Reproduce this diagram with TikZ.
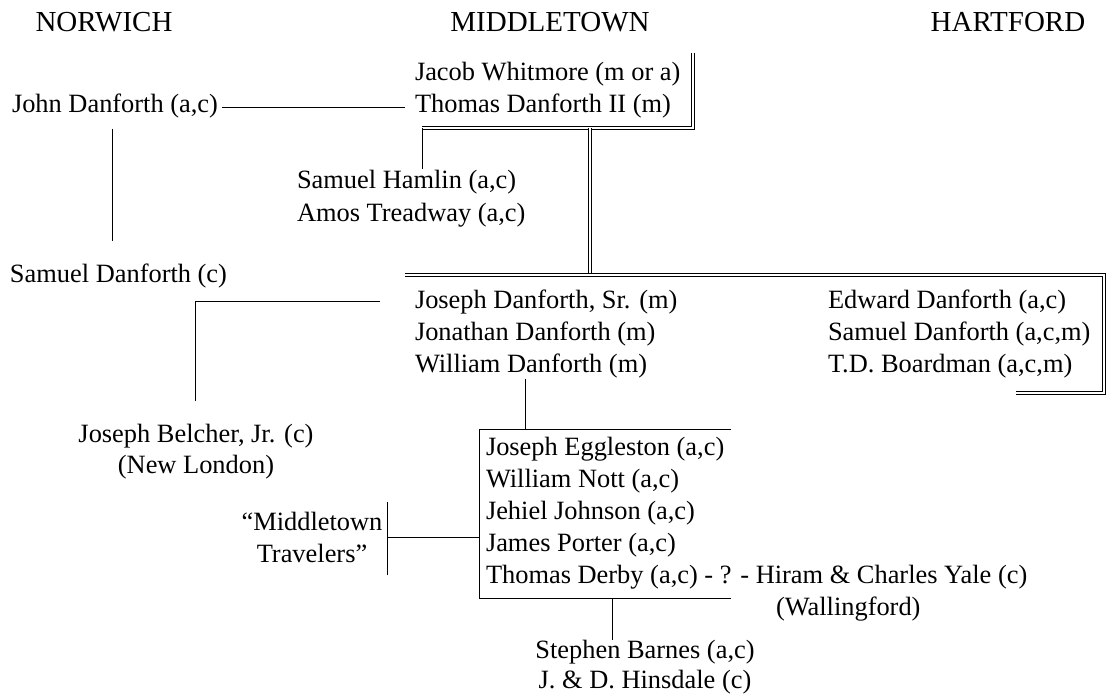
\documentclass[tikz,border=0pt]{standalone}
\usepackage{fontspec}
\setmainfont{Liberation Serif}

\tikzset{
  entry/.style={inner sep=0,outer sep=0,text height=0.75em,text depth=0.25em,anchor=west},
  centry/.style={inner sep=0,outer sep=0,text height=0.75em,text depth=0.25em},
  town/.style={inner sep=0,outer sep=0,font=\fontsize{14.5}{17}\selectfont},
  single/.style={line width=0.5pt},
  dbl/.style={double,double distance=1pt,line width=0.45pt},
}

\begin{document}
\begin{tikzpicture}[x=0.5pt,y=-0.5pt,font=\fontsize{13.2}{16}\selectfont]
	\useasboundingbox (0,0) rectangle (1107,695);
	% towns
	\node[town] (norwich) at (104,22) {NORWICH};
	\node[town] (middletown) at (550,22) {MIDDLETOWN};
	\node[town] (hartford) at (1008,22) {HARTFORD};
	% norwich
	\node[entry] (johnD) at (12,108) {John Danforth (a,c)};
	\node[entry] (samuelDc) at (10,277) {Samuel Danforth (c)};
	\node[centry] (belcher) at (196,437) {Joseph Belcher, Jr. (c)};
	\node[centry] (newLondon) at (196,468) {(New London)};
	% middletown
	\node[entry] (jacobW) at (415,76) {Jacob Whitmore (m or a)};
	\node[entry] (thomasD) at (415,108) {Thomas Danforth II (m)};
	\node[entry] (samuelH) at (297,184) {Samuel Hamlin (a,c)};
	\node[entry] (amosT) at (297,216) {Amos Treadway (a,c)};
	\node[entry] (josephD) at (415,303) {Joseph Danforth, Sr. (m)};
	\node[entry] (jonathanD) at (415,335) {Jonathan Danforth (m)};
	\node[entry] (williamD) at (415,367) {William Danforth (m)};
	\node[entry] (eggleston) at (486,450) {Joseph Eggleston (a,c)};
	\node[entry] (nott) at (486,482) {William Nott (a,c)};
	\node[entry] (johnson) at (486,514) {Jehiel Johnson (a,c)};
	\node[entry] (porter) at (486,546) {James Porter (a,c)};
	\node[entry] (derby) at (486,578) {Thomas Derby (a,c) - ? - Hiram \& Charles Yale (c)};
	\node[entry] (wallingford) at (776,610) {(Wallingford)};
	\node[align=center,inner sep=0] (travelers) at (312,537) {``Middletown\\Travelers''};
	\node[centry] (barnes) at (645,653) {Stephen Barnes (a,c)};
	\node[centry] (hinsdale) at (645,683) {J. \& D. Hinsdale (c)};
	% hartford
	\node[entry] (edwardD) at (828,303) {Edward Danforth (a,c)};
	\node[entry] (samuelDacm) at (828,335) {Samuel Danforth (a,c,m)};
	\node[entry] (boardman) at (828,367) {T.D. Boardman (a,c,m)};
	% corners
	\coordinate (tdTop) at (693,53);
	\coordinate (tdCorner) at (693,128);
	\coordinate (tdLeft) at (422,128);
	\coordinate (trunk) at (590,128);
	\coordinate (trunkFoot) at (590,275);
	\coordinate (busLeft) at (405,275);
	\coordinate (busRight) at (1104,275);
	\coordinate (hfFoot) at (1104,393);
	\coordinate (hfEnd) at (1016,393);
	\coordinate (belcherCorner) at (195,301);
	\coordinate (boxTL) at (479,429);
	\coordinate (boxTR) at (731,429);
	\coordinate (boxBL) at (479,598);
	\coordinate (boxBR) at (731,598);
	\coordinate (travTop) at (387,502);
	\coordinate (travBot) at (387,575);
	\coordinate (barnesDrop) at (612,598);
	% lines
	\draw[single] ([xshift=2pt]johnD.east) -- ([xshift=-5pt]thomasD.west);
	\draw[single] ([xshift=-1pt,yshift=-5.5pt]johnD.south) -- ([xshift=-1pt,yshift=13pt]johnD.south |- samuelDc.north);
	\draw[dbl] (tdTop) -- (tdCorner) -- (tdLeft);
	\draw[single] (tdLeft) -- ([yshift=2.5pt]tdLeft |- samuelH.north);
	\draw[dbl] (trunk) -- (trunkFoot);
	\draw[dbl] (busLeft) -- (busRight) -- (hfFoot) -- (hfEnd);
	\draw[single] ([xshift=-17.5pt]josephD.west |- belcherCorner) -- (belcherCorner) -- ([yshift=13pt]belcherCorner |- belcher.north);
	\draw[single] ([yshift=-1pt]williamD.south -| 525,0) -- (525,429);
	\draw[single] (boxTR) -- (boxTL) -- (boxBL) -- (boxBR);
	\draw[single] (travTop) -- (travBot);
	\draw[single] (travTop |- travelers.east) -- (boxTL |- travelers.east);
	\draw[single] (barnesDrop) -- ([yshift=1.5pt]barnesDrop |- barnes.north);
\end{tikzpicture}
\end{document}
